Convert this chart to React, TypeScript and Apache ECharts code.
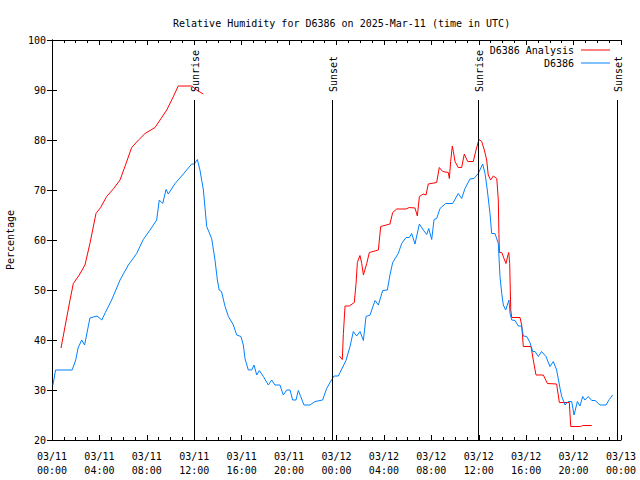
import React, { useEffect, useRef } from "react";
import * as echarts from "echarts";

const FONT = '"DejaVu Sans Mono", "Liberation Mono", monospace';

const titleText = "Relative Humidity for D6386 on 2025-Mar-11 (time in UTC)";
const analysisName = "D6386 Analysis";
const stationName = "D6386";

// hours since 2025-03-11 00:00 UTC
const analysisHours1 = [0.76, 1.52, 1.8, 2.3, 2.78, 3.2, 3.71, 4.1, 4.61, 5.2, 5.74, 6.2, 6.72, 7.3, 7.85, 8.69, 9.2, 9.68, 10.2, 10.65, 11.79, 12.2, 12.76];
const analysisValues1 = [38.4, 48, 51.3, 53, 55, 59.3, 65.3, 66.5, 68.7, 70.3, 72, 75, 78.5, 80, 81.3, 82.5, 84.3, 86, 88.5, 90.8, 90.8, 90, 89.2];

const analysisHours2 = [24.24, 24.49, 24.58, 24.72, 25.08, 25.5, 25.65, 25.76, 25.98, 26.13, 26.27, 26.55, 26.77, 27.53, 27.73, 28.51, 28.74, 29.08, 29.86, 30.14, 30.62, 30.82, 30.99, 31.32, 31.55, 31.74, 32.45, 32.67, 32.96, 33.43, 33.52, 33.63, 33.77, 33.86, 34.0, 34.27, 34.56, 34.78, 35.07, 35.54, 35.77, 36.02, 36.25, 36.47, 36.67, 36.8, 37.0, 37.23, 37.52, 37.65, 37.7, 37.74, 37.94, 38.13, 38.3, 38.44, 38.53, 38.61, 38.7, 38.78, 39.48, 39.62, 39.76, 40.41, 40.6, 40.83, 41.45, 41.79, 42.57, 42.8, 43.64, 43.76, 44.6, 44.77, 45.53];
const analysisValues2 = [36.8, 36.1, 41.3, 46.8, 46.8, 47.5, 51.3, 55.5, 56.9, 55.3, 53, 55.3, 57.5, 58, 62.7, 63.2, 65.5, 66.2, 66.2, 66.5, 66.4, 64.8, 68.7, 69.2, 69, 71.2, 71.5, 74.5, 73.7, 73.5, 72.3, 75.7, 78.8, 77.7, 75.7, 74.5, 74.5, 77.2, 75.7, 75.7, 78, 80.1, 79.7, 78, 76, 73, 72, 72.8, 72.3, 68, 61.3, 57.5, 57.5, 56.3, 55.3, 56.8, 57.5, 55.3, 46, 44.5, 44.5, 43, 38.7, 38.7, 36, 33, 33, 31.3, 31.2, 27.5, 27.5, 22.7, 22.7, 22.9, 22.9];

const stationHours = [0.08, 0.3, 1.7, 2.0, 2.2, 2.5, 2.75, 3.2, 3.8, 4.2, 4.5, 5.03, 5.74, 6.44, 7.14, 7.7, 8.27, 8.83, 9.05, 9.34, 9.62, 9.81, 10.38, 11.08, 11.78, 12.0, 12.26, 12.48, 12.77, 13.05, 13.47, 13.75, 13.95, 14.1, 14.3, 14.6, 14.88, 15.3, 15.58, 15.94, 16.14, 16.28, 16.56, 16.85, 17.04, 17.27, 17.49, 17.83, 18.25, 18.53, 18.81, 19.23, 19.51, 19.8, 20.08, 20.3, 20.58, 20.78, 20.98, 21.26, 21.76, 22.19, 22.83, 23.17, 23.6, 23.79, 24.15, 24.3, 24.8, 25.14, 25.42, 25.7, 25.98, 26.27, 26.49, 26.83, 27.25, 27.53, 27.9, 28.29, 28.51, 28.74, 29.21, 29.5, 29.86, 30.14, 30.34, 30.62, 30.99, 31.32, 31.61, 31.78, 32.03, 32.23, 32.45, 32.73, 33.21, 33.8, 34.27, 34.56, 34.84, 35.26, 35.6, 35.96, 36.33, 36.53, 36.72, 36.95, 37.09, 37.37, 37.65, 37.79, 37.94, 38.07, 38.27, 38.55, 38.64, 38.78, 39.06, 39.34, 39.62, 39.76, 40.05, 40.32, 40.55, 40.75, 41.03, 41.3, 41.67, 42.01, 42.29, 42.57, 42.86, 43.0, 43.28, 43.55, 43.84, 44.04, 44.32, 44.54, 44.77, 44.96, 45.24, 45.53, 45.81, 46.23, 46.74, 47.01, 47.3];
const stationValues = [31, 34, 34, 36, 38.4, 40, 39, 44.4, 44.8, 44, 45.5, 48, 52, 55, 57.3, 60.1, 62, 64, 68, 67.3, 70.1, 69.2, 71.3, 73.2, 75.2, 75.2, 76.1, 74, 70, 62.7, 60.3, 56, 52, 50, 49.7, 46.7, 44.7, 43, 41, 40.7, 39, 36.3, 34, 34, 35, 33, 33.9, 32.7, 31, 32, 31, 31, 29, 30, 30, 28, 28, 29.9, 28.7, 27, 27, 27.7, 28, 30.3, 32.1, 32.8, 32.8, 33.5, 35.9, 38.7, 41.7, 40.8, 41.7, 39.9, 44.7, 45, 47.9, 47, 49.9, 50, 53, 55.5, 57.3, 59.3, 60.5, 60.5, 61.3, 59.2, 63.2, 62, 61.1, 62.3, 60.1, 64.1, 64.3, 66.3, 67.3, 67.3, 69.3, 68.3, 70.3, 72.2, 72.3, 73.3, 75.2, 73.3, 70, 65.3, 61.3, 61.3, 59.3, 52.7, 49.3, 47, 46, 48, 45.3, 44, 43.9, 42.8, 42.8, 40.8, 40.7, 39.5, 37.7, 37.7, 36.7, 37.7, 36.7, 34.7, 35.7, 34, 30.3, 28.7, 27, 27.7, 27.7, 25, 27.7, 26.8, 28.7, 28, 28.7, 27.9, 27.9, 27, 27, 28.1, 29];

const sunHours = [11.98, 23.62, 35.94, 47.66];
const sunLabels = ["Sunrise", "Sunset", "Sunrise", "Sunset"];

const zip = (xs: number[], ys: number[]) => xs.map((x, i) => [x, ys[i]]);

const pad = (n: number) => (n < 10 ? "0" + n : "" + n);

export default function App() {
  const ref = useRef<HTMLDivElement>(null);
  useEffect(() => {
    if (!ref.current) return;
    const chart = echarts.init(ref.current, undefined, { renderer: "svg" });
    const analysisData: any[] = [
      ...zip(analysisHours1, analysisValues1),
      [12.9, "-"],
      ...zip(analysisHours2, analysisValues2),
    ];
    const stationData = zip(stationHours, stationValues);
    const axisLine = { show: true, lineStyle: { color: "#000", width: 1 } };
    const legendBase = {
      right: 30,
      align: "right",
      orient: "vertical",
      padding: 0,
      itemWidth: 29,
      itemHeight: 1,
      icon: "rect",
      itemGap: 0,
      textStyle: { fontFamily: FONT, fontSize: 10, color: "#000", padding: [0, 2, 0, 0] },
    };
    const option: any = {
      animation: false,
      backgroundColor: "#fff",
      title: {
        text: titleText,
        left: 168,
        top: 13,
        textStyle: { fontFamily: FONT, fontSize: 10, fontWeight: "normal", color: "#000" },
      },
      legend: [
        { ...legendBase, data: [analysisName], top: 45 },
        { ...legendBase, data: [stationName], top: 58 },
      ],
      grid: { left: 52, right: 19, top: 40, bottom: 40, outerBoundsMode: "none", containLabel: false },
      xAxis: [
        {
          type: "value",
          min: 0,
          max: 48,
          interval: 4,
          axisLine,
          splitLine: { show: false },
          axisTick: { show: true, inside: true, length: 5, lineStyle: { color: "#000" } },
          minorTick: { show: true, splitNumber: 4, length: 3, lineStyle: { color: "#000" } },
          axisLabel: {
            fontFamily: FONT,
            fontSize: 10,
            color: "#000",
            margin: 9,
            lineHeight: 14,
            formatter: (v: number) => {
              const d = 11 + Math.floor(v / 24);
              const h = Math.round(v % 24);
              return "03/" + pad(d) + "\n" + pad(h) + ":00";
            },
          },
        },
        {
          type: "value",
          position: "top",
          min: 0,
          max: 48,
          interval: 4,
          axisLine,
          splitLine: { show: false },
          axisTick: { show: true, inside: true, length: 5, lineStyle: { color: "#000" } },
          minorTick: { show: true, splitNumber: 4, length: 3, lineStyle: { color: "#000" } },
          axisLabel: { show: false },
        },
      ],
      yAxis: [
        {
          type: "value",
          min: 20,
          max: 100,
          interval: 10,
          name: "Percentage",
          nameLocation: "middle",
          nameGap: 37,
          nameTextStyle: { fontFamily: FONT, fontSize: 10, color: "#000" },
          axisLine,
          splitLine: { show: false },
          axisTick: { show: true, inside: true, length: 5, lineStyle: { color: "#000" } },
          axisLabel: { fontFamily: FONT, fontSize: 10, color: "#000", margin: 6 },
        },
        {
          type: "value",
          position: "right",
          min: 20,
          max: 100,
          interval: 10,
          axisLine,
          splitLine: { show: false },
          axisTick: { show: true, inside: true, length: 5, lineStyle: { color: "#000" } },
          axisLabel: { show: false },
        },
      ],
      series: [
        {
          name: analysisName,
          type: "line",
          data: analysisData,
          symbol: "none",
          connectNulls: false,
          lineStyle: { color: "#ff0000", width: 1 },
          itemStyle: { color: "#ff0000" },
          z: 3,
        },
        {
          name: stationName,
          type: "line",
          data: stationData,
          symbol: "none",
          lineStyle: { color: "#0080ff", width: 1 },
          itemStyle: { color: "#0080ff" },
          z: 3,
        },
        {
          type: "custom",
          data: sunHours.map((h) => [h, 20]),
          silent: true,
          z: 4,
          renderItem: (params: any, api: any) => {
            const x = api.value(0);
            const top = api.coord([x, 88]);
            const bottom = api.coord([x, 20]);
            const px = Math.round(top[0]) + 0.5;
            return {
              type: "group",
              children: [
                {
                  type: "line",
                  shape: { x1: px, y1: top[1], x2: px, y2: bottom[1] },
                  style: { stroke: "#000", lineWidth: 1 },
                },
                {
                  type: "text",
                  x: px + 1,
                  y: top[1] - 8,
                  rotation: Math.PI / 2,
                  style: {
                    text: sunLabels[params.dataIndex],
                    fill: "#000",
                    font: "10px " + FONT,
                    textAlign: "left",
                    textVerticalAlign: "middle",
                  },
                },
              ],
            };
          },
        },
      ],
    };
    chart.setOption(option);
    return () => chart.dispose();
  }, []);
  return <div ref={ref} style={{ width: 640, height: 480, position: "absolute", left: 0, top: 0 }} />;
}
